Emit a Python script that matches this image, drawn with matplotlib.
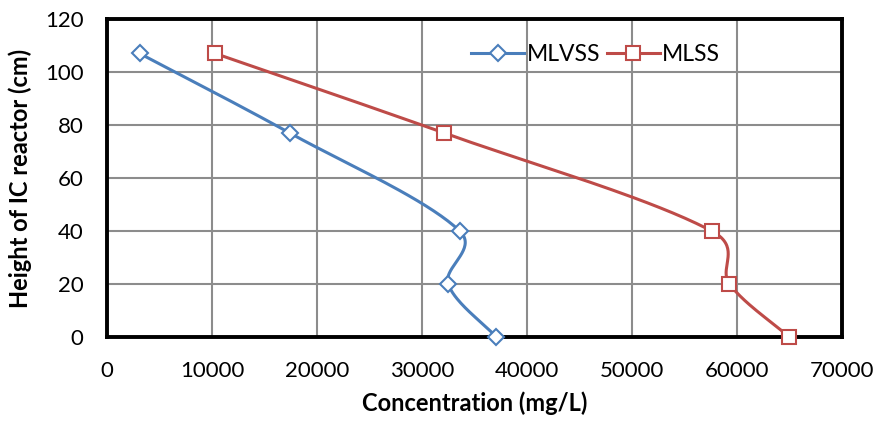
import numpy as np
import matplotlib.pyplot as plt

heights = [107, 77, 40, 20, 0]
mlvss = [3100, 17400, 33600, 32500, 37100]
mlss = [10300, 32100, 57600, 59300, 65000]

plt.rcParams['font.family'] = ['Lato', 'DejaVu Sans']

fig = plt.figure(figsize=(8.8, 4.22), dpi=100)
ax = fig.add_axes([0.1216, 0.2014, 0.835, 0.7536])

XMAX, YMAX = 70000, 120
# pixel size of the plot area, used so smoothing behaves like on screen
PW, PH = 735.0, 318.0


def smooth(xs, ys, n=40):
    # smoothed line through the points, tangents partly weighted by chord length
    p = np.column_stack([np.array(xs) / XMAX * PW, np.array(ys) / YMAX * PH])
    p = np.vstack([p[0], p, p[-1]])
    out = []
    for i in range(1, len(p) - 2):
        p0, p1, p2, p3 = p[i - 1], p[i], p[i + 1], p[i + 2]
        d01 = np.hypot(*(p1 - p0))
        d12 = np.hypot(*(p2 - p1))
        d23 = np.hypot(*(p3 - p2))
        k1 = 0.5 / 6.0 + 0.5 * d12 / (d01 + d12) / 3.0
        k2 = 0.5 / 6.0 + 0.5 * d12 / (d12 + d23) / 3.0
        c1 = p1 + (p2 - p0) * k1
        c2 = p2 - (p3 - p1) * k2
        t = np.linspace(0, 1, n)[:, None]
        seg = ((1 - t) ** 3) * p1 + 3 * ((1 - t) ** 2) * t * c1 + 3 * (1 - t) * t ** 2 * c2 + t ** 3 * p2
        out.append(seg)
    out = np.vstack(out)
    return out[:, 0] / PW * XMAX, out[:, 1] / PH * YMAX


blue = '#4a7ebb'
red = '#be4b48'

sx, sy = smooth(mlvss, heights)
ax.plot(sx, sy, color=blue, lw=2.2, zorder=3)
sx, sy = smooth(mlss, heights)
ax.plot(sx, sy, color=red, lw=2.2, zorder=3)
ax.plot(mlvss, heights, ls='none', marker='D', ms=8, mfc='white', mec=blue, mew=1.5, zorder=4, clip_on=False)
ax.plot(mlss, heights, ls='none', marker='s', ms=10.5, mfc='white', mec=red, mew=1.5, zorder=4, clip_on=False)

# legend handles
h1, = ax.plot([], [], color=blue, lw=2.2, marker='D', ms=8, mfc='white', mec=blue, mew=1.5)
h2, = ax.plot([], [], color=red, lw=2.2, marker='s', ms=10.5, mfc='white', mec=red, mew=1.5)
ax.legend([h1, h2], ['MLVSS', 'MLSS'], ncol=2, frameon=False, fontsize=16.5,
          loc='center', bbox_to_anchor=(0.665, 0.887), handlelength=2.3,
          handletextpad=0.1, columnspacing=0.3)

ax.set_xlim(0, XMAX)
ax.set_ylim(0, YMAX)
ax.set_xticks(range(0, 70001, 10000))
ax.set_yticks(range(0, 121, 20))
ax.grid(True, color='#8c8c8c', lw=1.5)
ax.set_axisbelow(True)
for s in ax.spines.values():
    s.set_linewidth(2.8)
    s.set_color('black')
ax.tick_params(length=0, labelsize=16)
ax.tick_params(axis='x', pad=17)
ax.tick_params(axis='y', pad=17)
ax.set_xlabel('Concentration (mg/L)', fontsize=17, fontweight='bold', labelpad=8)
ax.set_ylabel('Height of IC reactor (cm)', fontsize=17, fontweight='bold', labelpad=9)

fig.savefig('out.png', dpi=100)
